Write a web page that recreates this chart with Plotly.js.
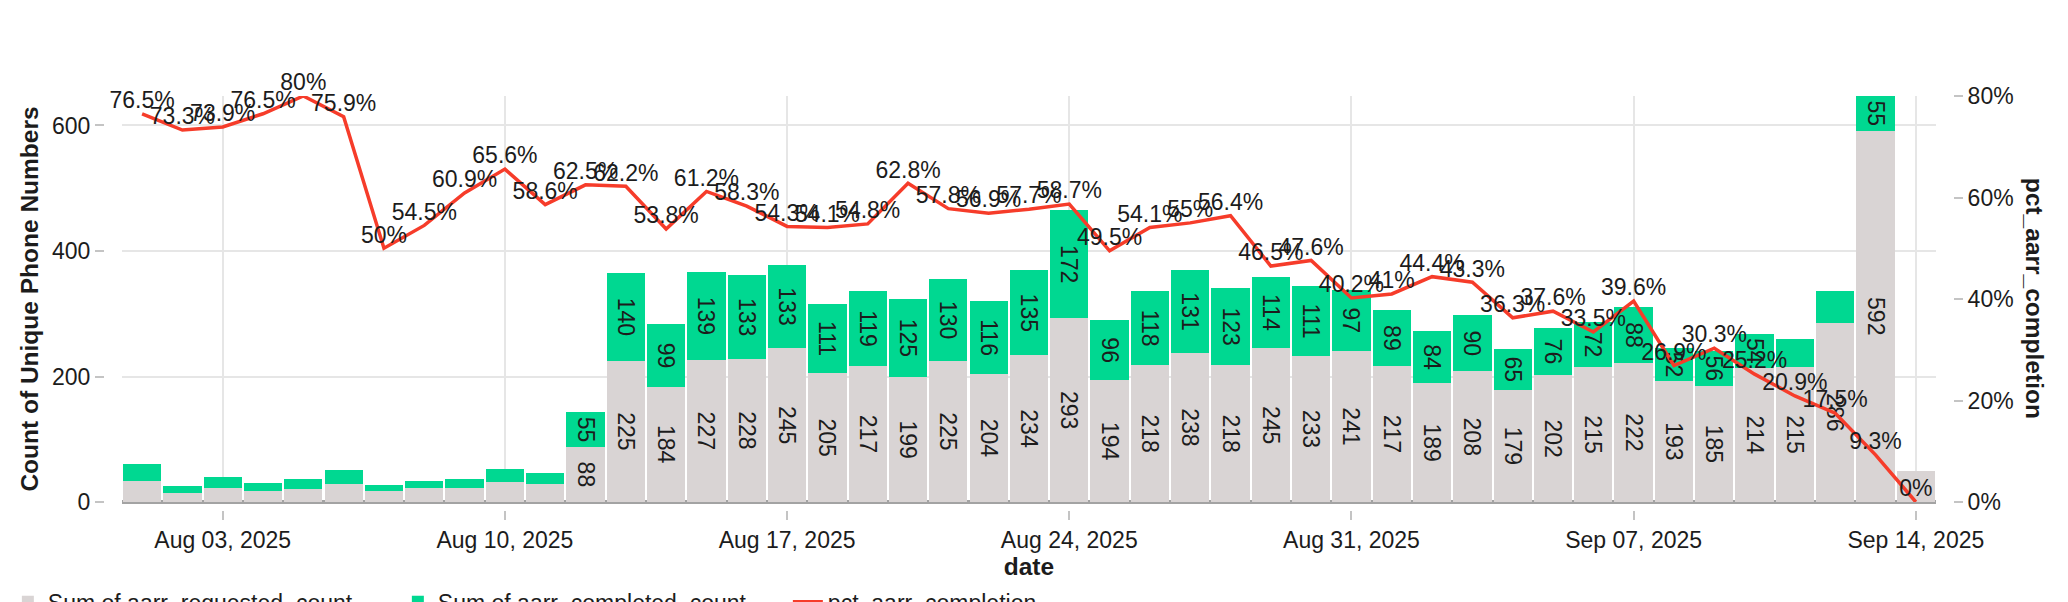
<!DOCTYPE html>
<html>
<head>
<meta charset="utf-8">
<script src="https://cdn.plot.ly/plotly-3.0.1.min.js"></script>
<style>
  html, body { margin: 0; padding: 0; background: #fff; }
  #chart { width: 2068px; height: 602px; }
</style>
</head>
<body>
<div id="chart"></div>
<script>
// daily AARR requests vs completions, Aug 01 – Sep 14 2025
const dates = [
    "2025-08-01", "2025-08-02", "2025-08-03", "2025-08-04", "2025-08-05", "2025-08-06",
    "2025-08-07", "2025-08-08", "2025-08-09", "2025-08-10", "2025-08-11", "2025-08-12",
    "2025-08-13", "2025-08-14", "2025-08-15", "2025-08-16", "2025-08-17", "2025-08-18",
    "2025-08-19", "2025-08-20", "2025-08-21", "2025-08-22", "2025-08-23", "2025-08-24",
    "2025-08-25", "2025-08-26", "2025-08-27", "2025-08-28", "2025-08-29", "2025-08-30",
    "2025-08-31", "2025-09-01", "2025-09-02", "2025-09-03", "2025-09-04", "2025-09-05",
    "2025-09-06", "2025-09-07", "2025-09-08", "2025-09-09", "2025-09-10", "2025-09-11",
    "2025-09-12", "2025-09-13", "2025-09-14",
];
const requested = [
    34, 15, 23, 17, 20, 29, 18, 22, 23, 32, 29, 88,
    225, 184, 227, 228, 245, 205, 217, 199, 225, 204, 234, 293,
    194, 218, 238, 218, 245, 233, 241, 217, 189, 208, 179, 202,
    215, 222, 193, 185, 214, 215, 286, 592, 49,
];
const completed = [
    26, 11, 17, 13, 16, 22, 9, 12, 14, 21, 17, 55,
    140, 99, 139, 133, 133, 111, 119, 125, 130, 116, 135, 172,
    96, 118, 131, 123, 114, 111, 97, 89, 84, 90, 65, 76,
    72, 88, 52, 56, 54, 45, 50, 55, 0,
];
const pctCompletion = [
    0.765, 0.733, 0.739, 0.765, 0.80, 0.759, 0.50, 0.545, 0.609, 0.656, 0.586, 0.625,
    0.622, 0.538, 0.612, 0.583, 0.543, 0.541, 0.548, 0.628, 0.578, 0.569, 0.577, 0.587,
    0.495, 0.541, 0.55, 0.564, 0.465, 0.476, 0.402, 0.41, 0.444, 0.433, 0.363, 0.376,
    0.335, 0.396, 0.269, 0.303, 0.252, 0.209, 0.175, 0.093, 0,
];

const FONT = "Liberation Sans, Arial, Helvetica, sans-serif";
const INK = "#1c1c1c";
const GRID = "#e6e6e6";
const TICK = "#c4c4c4";
const titleFont = { family: FONT, size: 24.5, weight: "bold", color: INK };

const barText = {
    texttemplate: "%{y}",
    textposition: "inside",
    insidetextanchor: "middle",
    textangle: 90,
    textfont: { family: FONT, size: 23, color: INK },
    hoverinfo: "skip",
};

const traces = [
    {
        type: "bar",
        name: "Sum of aarr_requested_count",
        x: dates,
        y: requested,
        marker: { color: "#d9d4d4" },
        ...barText,
    },
    {
        type: "bar",
        name: "Sum of aarr_completed_count",
        x: dates,
        y: completed,
        marker: { color: "#00d891" },
        ...barText,
    },
    {
        type: "scatter",
        mode: "lines+text",
        name: "pct_aarr_completion",
        x: dates,
        y: pctCompletion,
        yaxis: "y2",
        line: { color: "#f63c2a", width: 3.5 },
        texttemplate: "%{y:.3~p}",
        textposition: "top center",
        textfont: { family: FONT, size: 23, color: INK },
        cliponaxis: false,
    },
];

const layout = {
    width: 2068,
    height: 602,
    paper_bgcolor: "#fff",
    plot_bgcolor: "#fff",
    font: { family: FONT, size: 23, color: INK },
    // legend sits half below the page edge, so keep it from pushing the margins
    margin: { l: 104, r: 115, t: 96, b: 92, autoexpand: false },
    barmode: "stack",
    bargap: 0.05,
    uniformtext: { mode: "hide", minsize: 23 },
    showlegend: true,
    legend: {
        orientation: "h",
        traceorder: "normal",
        x: -0.052,
        xanchor: "left",
        y: -0.17,
        yanchor: "top",
        entrywidth: 345,
        font: { family: FONT, size: 23, color: INK },
    },
    xaxis: {
        type: "date",
        domain: [0.0097, 0.9908],
        anchor: "free",
        position: 0,
        range: ["2025-07-31 12:00", "2025-09-14 12:00"],
        tick0: "2025-08-03",
        dtick: 7 * 86400000,
        tickformat: "%b %d, %Y",
        showgrid: true,
        gridcolor: GRID,
        gridwidth: 2,
        ticks: "outside",
        ticklen: 9,
        tickwidth: 2,
        tickcolor: TICK,
        showline: false,
        zeroline: false,
        title: { text: "date", font: titleFont, standoff: 0 },
    },
    yaxis: {
        domain: [0.0193, 1],
        anchor: "free",
        position: 0,
        range: [0, 647],
        dtick: 200,
        showgrid: true,
        gridcolor: GRID,
        gridwidth: 2,
        ticks: "outside",
        ticklen: 9,
        tickwidth: 2,
        tickcolor: TICK,
        zeroline: true,
        zerolinecolor: "#a3a3a3",
        zerolinewidth: 4,
        showline: false,
        title: { text: "Count of Unique Phone Numbers", font: titleFont, standoff: 5 },
    },
    yaxis2: {
        overlaying: "y",
        side: "right",
        anchor: "free",
        position: 1,
        range: [0, 0.8],
        dtick: 0.2,
        tickformat: ".0%",
        showgrid: false,
        zeroline: false,
        ticks: "outside",
        ticklen: 9,
        tickwidth: 2,
        tickcolor: TICK,
        showline: false,
    },
    annotations: [
        {
            // right-hand title reads top-to-bottom
            text: "pct_aarr_completion",
            xref: "paper",
            yref: "paper",
            x: 1.0438,
            y: 0.51,
            xanchor: "center",
            yanchor: "middle",
            textangle: 90,
            showarrow: false,
            font: titleFont,
        },
    ],
};

Plotly.newPlot("chart", traces, layout, { displayModeBar: false, staticPlot: true });
</script>
</body>
</html>
